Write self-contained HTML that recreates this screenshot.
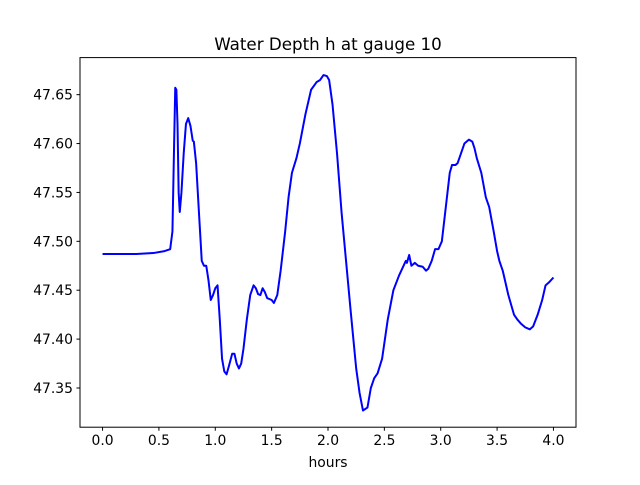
<!DOCTYPE html>
<html><head><meta charset="utf-8"><style>
html,body{margin:0;padding:0;background:#fff;}
svg text{font-family:"DejaVu Sans","Liberation Sans",sans-serif;}
</style></head><body>
<svg id="chart" width="640" height="480" xmlns="http://www.w3.org/2000/svg">
<rect width="640" height="480" fill="#fff"/>
<text x="328" y="50" text-anchor="middle" font-size="16.7">Water Depth h at gauge 10</text>
<g id="ticks"></g>
<path id="line" fill="none" stroke="#0000ff" stroke-width="2" stroke-linejoin="round"/>
<rect x="80" y="57.6" width="496" height="369.6" fill="none" stroke="#000" stroke-width="1"/>
<text x="328" y="467" text-anchor="middle" font-size="13.9">hours</text>
</svg>
<script>
const hours=[0,0.3,0.45,0.55,0.6,0.62,0.635,0.645,0.655,0.665,0.675,0.685,0.7,0.72,0.74,0.76,0.78,0.8,0.81,0.83,0.86,0.88,0.9,0.92,0.94,0.96,0.98,1.0,1.02,1.04,1.06,1.08,1.1,1.12,1.15,1.17,1.19,1.21,1.23,1.25,1.28,1.31,1.34,1.36,1.38,1.4,1.42,1.44,1.46,1.5,1.52,1.55,1.58,1.62,1.65,1.68,1.72,1.75,1.8,1.85,1.9,1.93,1.96,1.99,2.01,2.04,2.08,2.12,2.16,2.2,2.25,2.28,2.31,2.35,2.38,2.41,2.44,2.48,2.53,2.58,2.63,2.67,2.69,2.7,2.72,2.74,2.77,2.8,2.84,2.87,2.89,2.92,2.95,2.98,3.01,3.04,3.08,3.1,3.13,3.15,3.18,3.21,3.25,3.28,3.3,3.32,3.36,3.4,3.43,3.47,3.5,3.52,3.55,3.6,3.65,3.68,3.71,3.75,3.79,3.82,3.86,3.9,3.93,3.96,4.0];
const depth=[47.487,47.487,47.488,47.490,47.492,47.51,47.60,47.657,47.655,47.62,47.55,47.530,47.55,47.59,47.620,47.626,47.618,47.603,47.602,47.58,47.52,47.48,47.475,47.475,47.46,47.44,47.445,47.452,47.455,47.42,47.38,47.367,47.364,47.372,47.385,47.385,47.375,47.37,47.375,47.39,47.42,47.445,47.455,47.452,47.446,47.445,47.452,47.448,47.442,47.440,47.437,47.445,47.47,47.51,47.545,47.57,47.585,47.60,47.63,47.655,47.663,47.665,47.670,47.669,47.665,47.64,47.59,47.53,47.48,47.43,47.37,47.345,47.327,47.33,47.35,47.36,47.365,47.38,47.42,47.45,47.465,47.475,47.48,47.478,47.486,47.475,47.478,47.475,47.474,47.47,47.472,47.48,47.492,47.492,47.50,47.53,47.57,47.578,47.578,47.58,47.59,47.60,47.604,47.602,47.595,47.585,47.57,47.545,47.535,47.51,47.49,47.48,47.47,47.445,47.425,47.42,47.416,47.412,47.410,47.413,47.425,47.44,47.455,47.458,47.463];
const xTicks=[0.0,0.5,1.0,1.5,2.0,2.5,3.0,3.5,4.0];
const yTicks=[47.35,47.40,47.45,47.50,47.55,47.60,47.65];
const X0=80,X1=576,Y0=427.2,Y1=57.6;
const xmin=-0.2,xmax=4.2,ymin=47.3099,ymax=47.6879;
function sx(v){return X0+(v-xmin)/(xmax-xmin)*(X1-X0);}
function sy(v){return Y0-(v-ymin)/(ymax-ymin)*(Y0-Y1);}
const NS="http://www.w3.org/2000/svg";
const g=document.getElementById('ticks');
xTicks.forEach(t=>{
  const l=document.createElementNS(NS,'line');
  
  
  l.setAttribute('x1',sx(t));l.setAttribute('x2',sx(t));l.setAttribute('y1',Y0);l.setAttribute('y2',Y0+3.5);l.setAttribute('stroke','#000');
  g.appendChild(l);
  const tx=document.createElementNS(NS,'text');
  
  
  tx.setAttribute('x',sx(t));tx.setAttribute('y',Y0+18);tx.setAttribute('text-anchor','middle');tx.setAttribute('font-size','13.9');
  tx.textContent=t.toFixed(1);g.appendChild(tx);
});
yTicks.forEach(t=>{
  const l=document.createElementNS(NS,'line');
  
  
  l.setAttribute('x1',X0-3.5);l.setAttribute('x2',X0);l.setAttribute('y1',sy(t));l.setAttribute('y2',sy(t));l.setAttribute('stroke','#000');
  g.appendChild(l);
  const tx=document.createElementNS(NS,'text');
  
  
  tx.setAttribute('x',X0-7);tx.setAttribute('y',sy(t)+5);tx.setAttribute('text-anchor','end');tx.setAttribute('font-size','13.9');
  tx.textContent=t.toFixed(2);g.appendChild(tx);
});
document.getElementById('line').setAttribute('d',hours.map((h,i)=>(i?'L':'M')+sx(h).toFixed(2)+','+sy(depth[i]).toFixed(2)).join(''));
</script>
</body></html>
